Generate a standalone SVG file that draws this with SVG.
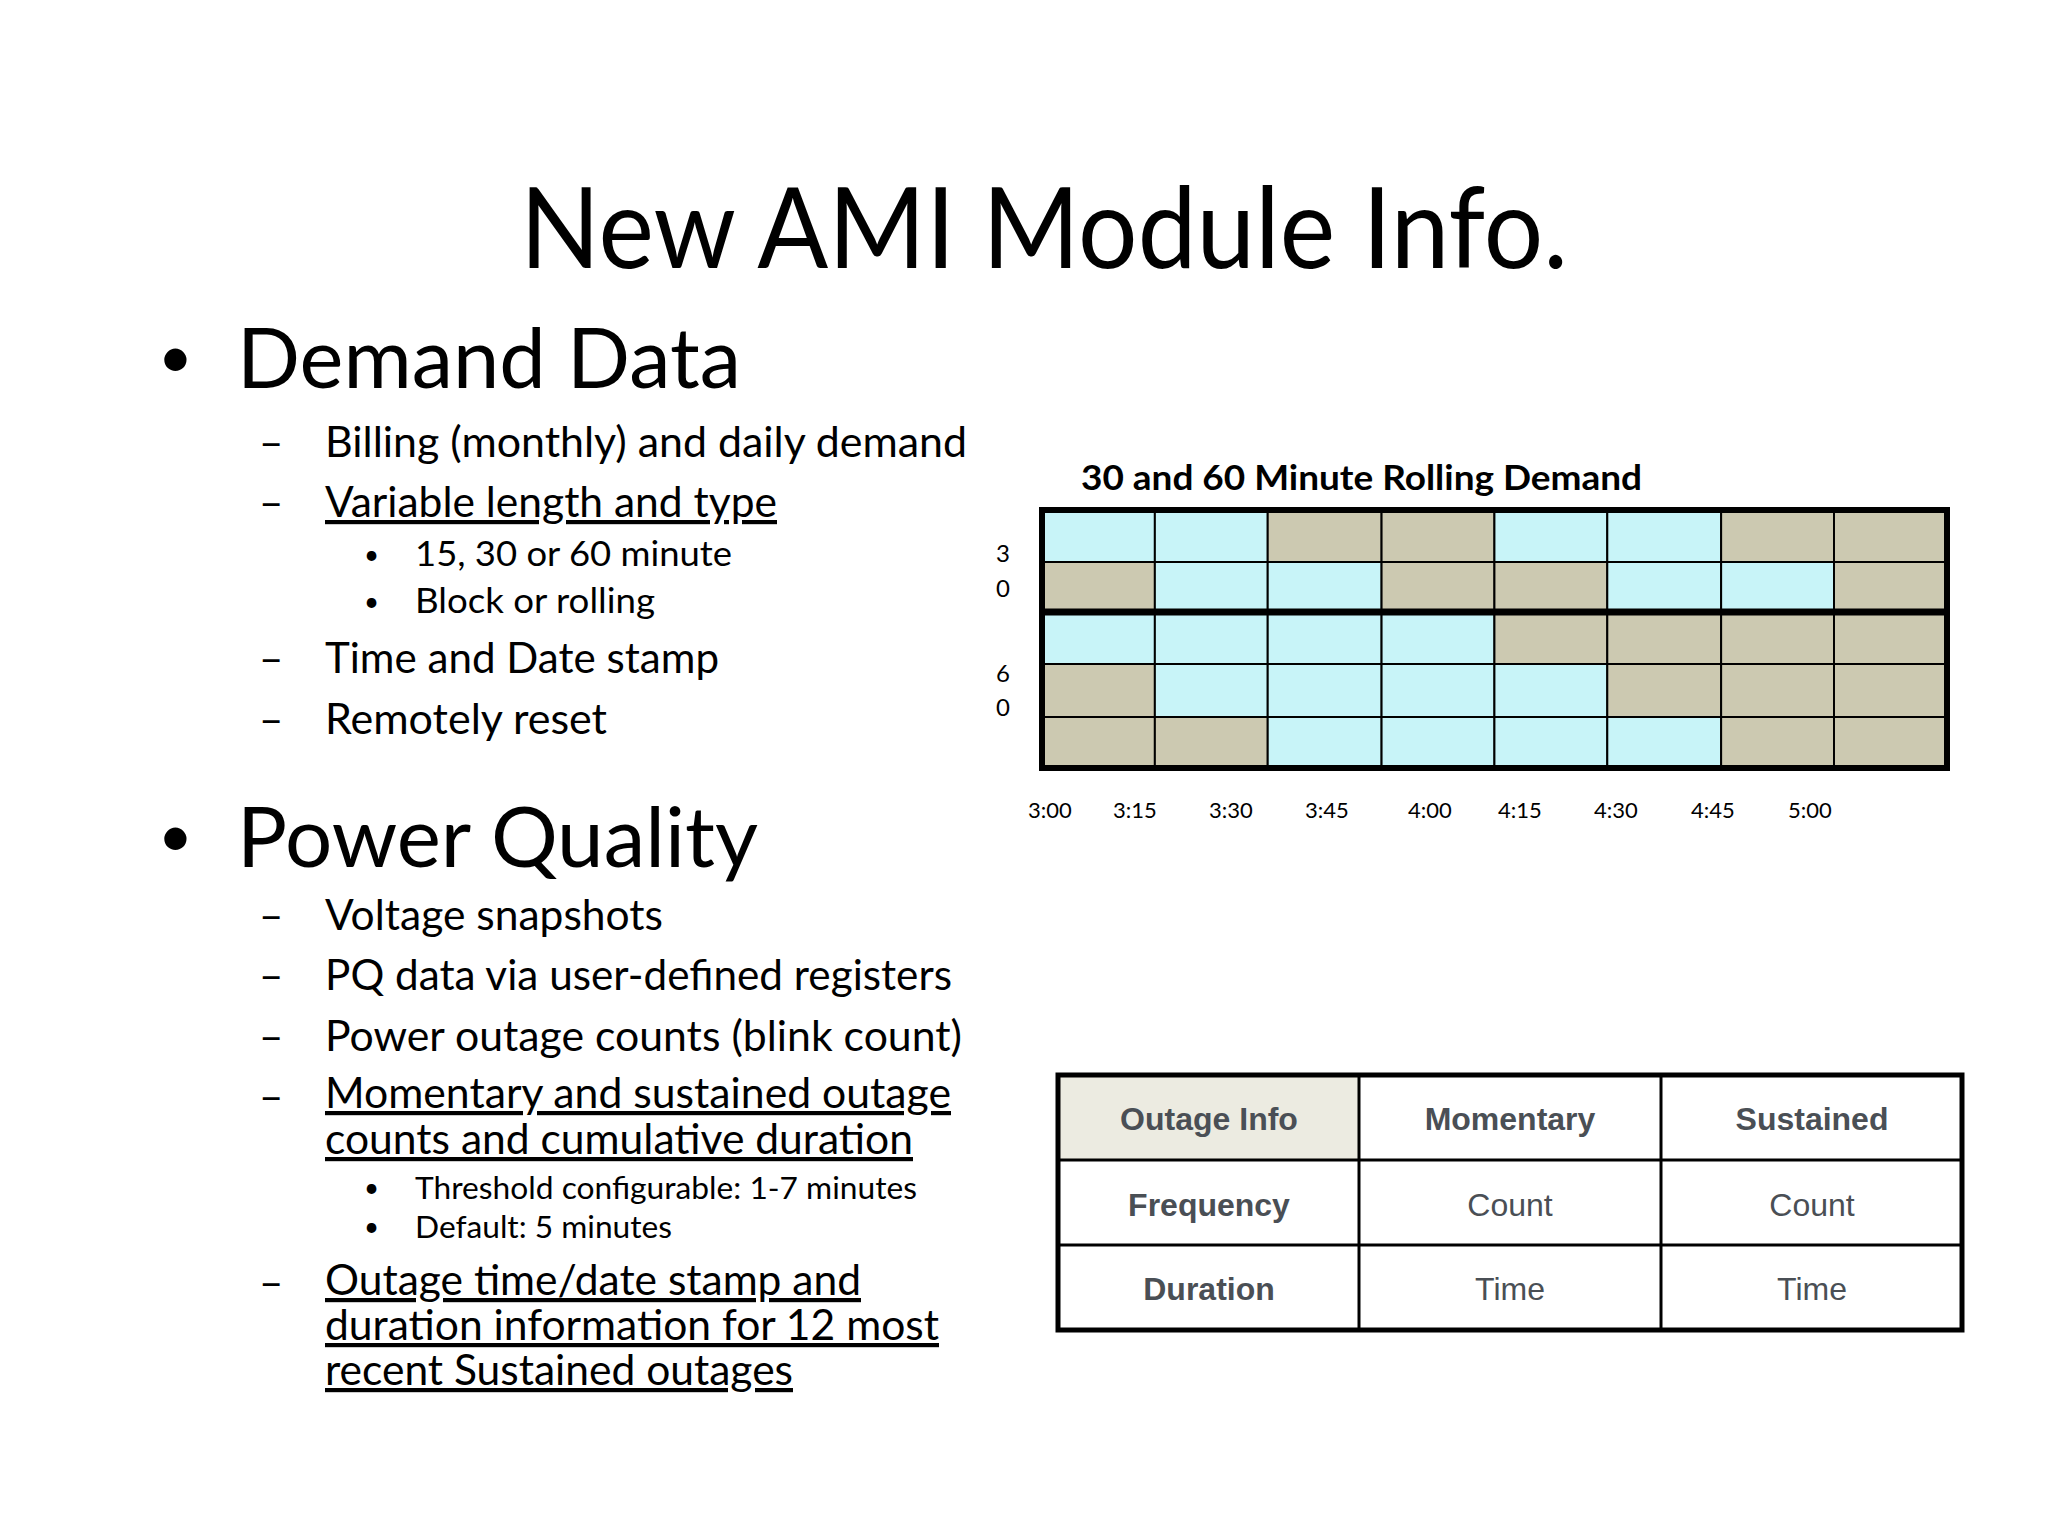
<svg xmlns="http://www.w3.org/2000/svg" width="2048" height="1536" viewBox="0 0 2048 1536">
<style>
text{font-family:Lato,"Open Sans","Liberation Sans",sans-serif;fill:#000}
.l1{font-size:84px}
.l2{font-size:42px}
.l3{font-size:34px}
.bu{font-size:60px}
.sb{font-size:26px}
.u{text-decoration:underline}
.c{fill:#c8f4f8;stroke:#000;stroke-width:2}
.t{fill:#ccc9b1;stroke:#000;stroke-width:2}
.tm{font-size:22px}
.tb{font-family:"Liberation Sans",Arial,sans-serif;font-size:32px;fill:#4a4f55;text-anchor:middle}
.b{font-weight:bold}
</style>
<rect width="2048" height="1536" fill="#fff"/>
<g id="title"><text x="1044" y="268" font-size="112" text-anchor="middle" textLength="1048" lengthAdjust="spacingAndGlyphs">New AMI Module Info.</text></g>
<g id="left-text">
<text class="bu" x="158" y="378">•</text>
<text class="l1" x="237" y="388" textLength="504" lengthAdjust="spacingAndGlyphs">Demand Data</text>
<text class="l2" x="259" y="457">–</text><text class="l2" x="325" y="457" textLength="642" lengthAdjust="spacingAndGlyphs">Billing (monthly) and daily demand</text>
<text class="l2" x="259" y="517">–</text><text class="l2 u" x="325" y="517" textLength="452" lengthAdjust="spacingAndGlyphs">Variable length and type</text>
<text class="sb" x="364" y="564">•</text><text class="l3" x="415" y="566" textLength="317" lengthAdjust="spacingAndGlyphs">15, 30 or 60 minute</text>
<text class="sb" x="364" y="611">•</text><text class="l3" x="415" y="613" textLength="240" lengthAdjust="spacingAndGlyphs">Block or rolling</text>
<text class="l2" x="259" y="673">–</text><text class="l2" x="325" y="673" textLength="394" lengthAdjust="spacingAndGlyphs">Time and Date stamp</text>
<text class="l2" x="259" y="734">–</text><text class="l2" x="325" y="734" textLength="282" lengthAdjust="spacingAndGlyphs">Remotely reset</text>
<text class="bu" x="158" y="857">•</text>
<text class="l1" x="237" y="867" textLength="521" lengthAdjust="spacingAndGlyphs">Power Quality</text>
<text class="l2" x="259" y="930">–</text><text class="l2" x="325" y="930" textLength="338" lengthAdjust="spacingAndGlyphs">Voltage snapshots</text>
<text class="l2" x="259" y="990">–</text><text class="l2" x="325" y="990" textLength="627" lengthAdjust="spacingAndGlyphs">PQ data via user-defined registers</text>
<text class="l2" x="259" y="1051">–</text><text class="l2" x="325" y="1051" textLength="637" lengthAdjust="spacingAndGlyphs">Power outage counts (blink count)</text>
<text class="l2" x="259" y="1111">–</text><text class="l2 u" x="325" y="1108" textLength="626" lengthAdjust="spacingAndGlyphs">Momentary and sustained outage</text>
<text class="l2 u" x="325" y="1154" textLength="588" lengthAdjust="spacingAndGlyphs">counts and cumulative duration</text>
<text class="sb" x="364" y="1197">•</text><text x="415" y="1199" font-size="31" textLength="502" lengthAdjust="spacingAndGlyphs">Threshold configurable: 1-7 minutes</text>
<text class="sb" x="364" y="1236">•</text><text x="415" y="1238" font-size="31" textLength="257" lengthAdjust="spacingAndGlyphs">Default: 5 minutes</text>
<text class="l2" x="259" y="1297">–</text><text class="l2 u" x="325" y="1295" textLength="536" lengthAdjust="spacingAndGlyphs">Outage time/date stamp and</text>
<text class="l2 u" x="325" y="1340" textLength="614" lengthAdjust="spacingAndGlyphs">duration information for 12 most</text>
<text class="l2 u" x="325" y="1385" textLength="468" lengthAdjust="spacingAndGlyphs">recent Sustained outages</text>
</g>
<g id="demand-chart">
<text x="1081" y="490" font-size="35" font-weight="bold" textLength="561" lengthAdjust="spacingAndGlyphs">30 and 60 Minute Rolling Demand</text>
<g transform="translate(1042 0) scale(0.99 1) translate(-1042 0)">
<rect class="c" x="1042" y="510" width="114" height="52"/><rect class="c" x="1156" y="510" width="114" height="52"/><rect class="t" x="1270" y="510" width="115" height="52"/><rect class="t" x="1385" y="510" width="114" height="52"/><rect class="c" x="1499" y="510" width="114" height="52"/><rect class="c" x="1613" y="510" width="115" height="52"/><rect class="t" x="1728" y="510" width="114" height="52"/><rect class="t" x="1842" y="510" width="114" height="52"/>
<rect class="t" x="1042" y="562" width="114" height="50"/><rect class="c" x="1156" y="562" width="114" height="50"/><rect class="c" x="1270" y="562" width="115" height="50"/><rect class="t" x="1385" y="562" width="114" height="50"/><rect class="t" x="1499" y="562" width="114" height="50"/><rect class="c" x="1613" y="562" width="115" height="50"/><rect class="c" x="1728" y="562" width="114" height="50"/><rect class="t" x="1842" y="562" width="114" height="50"/>
<rect class="c" x="1042" y="612" width="114" height="52"/><rect class="c" x="1156" y="612" width="114" height="52"/><rect class="c" x="1270" y="612" width="115" height="52"/><rect class="c" x="1385" y="612" width="114" height="52"/><rect class="t" x="1499" y="612" width="114" height="52"/><rect class="t" x="1613" y="612" width="115" height="52"/><rect class="t" x="1728" y="612" width="114" height="52"/><rect class="t" x="1842" y="612" width="114" height="52"/>
<rect class="t" x="1042" y="664" width="114" height="53"/><rect class="c" x="1156" y="664" width="114" height="53"/><rect class="c" x="1270" y="664" width="115" height="53"/><rect class="c" x="1385" y="664" width="114" height="53"/><rect class="c" x="1499" y="664" width="114" height="53"/><rect class="t" x="1613" y="664" width="115" height="53"/><rect class="t" x="1728" y="664" width="114" height="53"/><rect class="t" x="1842" y="664" width="114" height="53"/>
<rect class="t" x="1042" y="717" width="114" height="51"/><rect class="t" x="1156" y="717" width="114" height="51"/><rect class="c" x="1270" y="717" width="115" height="51"/><rect class="c" x="1385" y="717" width="114" height="51"/><rect class="c" x="1499" y="717" width="114" height="51"/><rect class="c" x="1613" y="717" width="115" height="51"/><rect class="t" x="1728" y="717" width="114" height="51"/><rect class="t" x="1842" y="717" width="114" height="51"/>
</g>
<rect x="1042" y="510" width="905" height="258" fill="none" stroke="#000" stroke-width="6"/>
<line x1="1042" y1="612" x2="1947" y2="612" stroke="#000" stroke-width="7"/>
<text x="996" y="562" font-size="24">3</text><text x="996" y="597" font-size="24">0</text>
<text x="996" y="682" font-size="24">6</text><text x="996" y="716" font-size="24">0</text>
<text class="tm" x="1028" y="818">3:00</text><text class="tm" x="1113" y="818">3:15</text><text class="tm" x="1209" y="818">3:30</text><text class="tm" x="1305" y="818">3:45</text><text class="tm" x="1408" y="818">4:00</text><text class="tm" x="1498" y="818">4:15</text><text class="tm" x="1594" y="818">4:30</text><text class="tm" x="1691" y="818">4:45</text><text class="tm" x="1788" y="818">5:00</text>
</g>
<g id="outage-table">
<rect x="1058" y="1075" width="301" height="85" fill="#ecebe1"/>
<rect x="1058" y="1075" width="904" height="255" fill="none" stroke="#000" stroke-width="5"/>
<line x1="1058" y1="1160" x2="1962" y2="1160" stroke="#000" stroke-width="3"/>
<line x1="1058" y1="1245" x2="1962" y2="1245" stroke="#000" stroke-width="3"/>
<line x1="1359" y1="1075" x2="1359" y2="1330" stroke="#000" stroke-width="3"/>
<line x1="1661" y1="1075" x2="1661" y2="1330" stroke="#000" stroke-width="3"/>
<text class="tb b" x="1209" y="1130">Outage Info</text><text class="tb b" x="1510" y="1130">Momentary</text><text class="tb b" x="1812" y="1130">Sustained</text>
<text class="tb b" x="1209" y="1216">Frequency</text><text class="tb" x="1510" y="1216">Count</text><text class="tb" x="1812" y="1216">Count</text>
<text class="tb b" x="1209" y="1300">Duration</text><text class="tb" x="1510" y="1300">Time</text><text class="tb" x="1812" y="1300">Time</text>
</g>
</svg>
